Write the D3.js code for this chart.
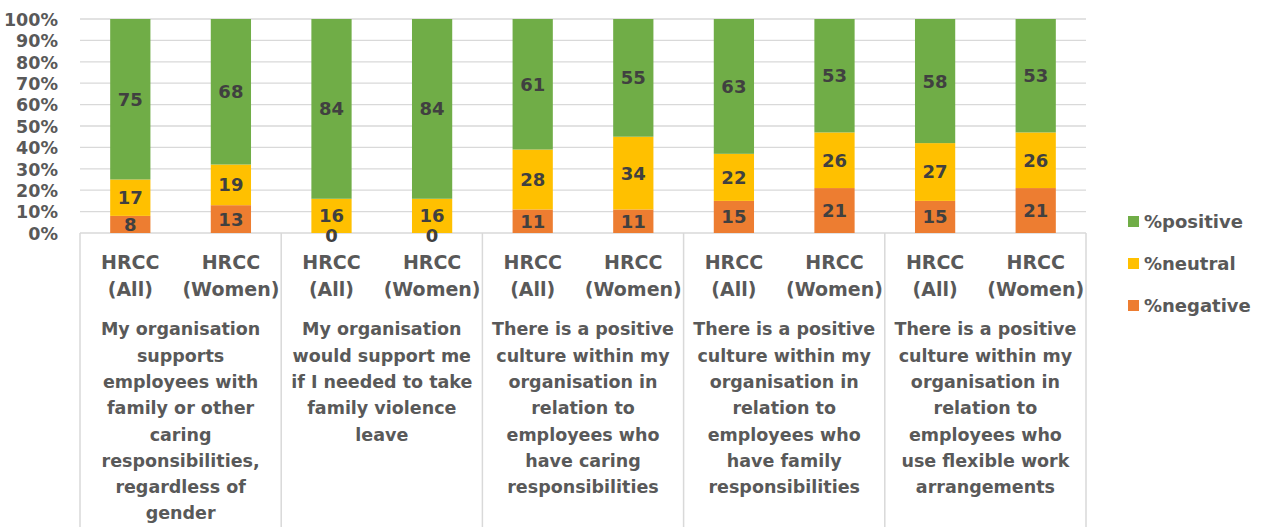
<!DOCTYPE html>
<html>
<head>
<meta charset="utf-8">
<script src="https://cdn.jsdelivr.net/npm/d3@7"></script>
<style>
  html, body { margin: 0; padding: 0; background: #fff; }
  svg { display: block; font-family: "DejaVu Sans", sans-serif; font-weight: bold; }
</style>
</head>
<body>
<svg id="chart" width="1263" height="527"></svg>
<script>
// Survey statements (one group per statement), split into display lines
const statements = [
  ["My organisation", "supports", "employees with", "family or other", "caring", "responsibilities,", "regardless of", "gender"],
  ["My organisation", "would support me", "if I needed to take", "family violence", "leave"],
  ["There is a positive", "culture within my", "organisation in", "relation to", "employees who", "have caring", "responsibilities"],
  ["There is a positive", "culture within my", "organisation in", "relation to", "employees who", "have family", "responsibilities"],
  ["There is a positive", "culture within my", "organisation in", "relation to", "employees who", "use flexible work", "arrangements"]
];
const groups = ["HRCC (All)", "HRCC (Women)"];
const groupLines = [["HRCC", "(All)"], ["HRCC", "(Women)"]];

// Percent responses, ordered statement by statement, All then Women
const negative = [8, 13, 0, 0, 11, 11, 15, 21, 15, 21];
const neutral  = [17, 19, 16, 16, 28, 34, 22, 26, 27, 26];
const positive = [75, 68, 84, 84, 61, 55, 63, 53, 58, 53];

const yTicks = [0, 10, 20, 30, 40, 50, 60, 70, 80, 90, 100];
const seriesNames = ["%positive", "%neutral", "%negative"];
const colors = { "%positive": "#70ad47", "%neutral": "#ffc000", "%negative": "#ed7d31" };

const svg = d3.select("#chart");
const plotLeft = 80, plotRight = 1086, plotTop = 19, plotBottom = 233, svgH = 527;

const rows = negative.map((d, i) => ({
  key: i,
  stmt: Math.floor(i / 2),
  grp: i % 2,
  "%negative": negative[i],
  "%neutral": neutral[i],
  "%positive": positive[i]
}));

const x = d3.scaleBand().domain(rows.map(r => r.key)).range([plotLeft, plotRight])
  .paddingInner(0.6).paddingOuter(0.3);
const xStmt = d3.scaleBand().domain(statements.map((s, i) => i)).range([plotLeft, plotRight]);
const y = d3.scaleLinear().domain([0, 100]).range([plotBottom, plotTop]);

// Gridlines
svg.append("g").selectAll("line").data(yTicks.filter(t => t > 0)).join("line")
  .attr("x1", plotLeft).attr("x2", plotRight)
  .attr("y1", d => y(d)).attr("y2", d => y(d))
  .attr("stroke", "#d9d9d9").attr("stroke-width", 1.3);

// Y axis labels
const yAxis = svg.append("g").attr("transform", `translate(${plotLeft - 22},0)`)
  .call(d3.axisLeft(y).tickValues(yTicks).tickFormat(d => d + "%").tickSize(0).tickPadding(0));
yAxis.select(".domain").remove();
yAxis.selectAll("text").attr("fill", "#595959").style("font-size", "17.5px")
  .style("font-family", "DejaVu Sans, sans-serif").style("font-weight", "bold").attr("dy", "0.36em");

// Category axis frame
const axisG = svg.append("g");
axisG.append("line").attr("x1", plotLeft).attr("x2", plotRight).attr("y1", plotBottom).attr("y2", plotBottom)
  .attr("stroke", "#d9d9d9").attr("stroke-width", 1.5);
const bounds = statements.map((s, i) => xStmt(i)).concat([plotRight]);
axisG.selectAll("line.sep").data(bounds).join("line").attr("class", "sep")
  .attr("x1", d => d).attr("x2", d => d).attr("y1", plotBottom).attr("y2", svgH)
  .attr("stroke", "#d9d9d9").attr("stroke-width", 1.5);

// Stacked bars
const stack = d3.stack().keys(["%negative", "%neutral", "%positive"]);
const layers = stack(rows);
const barG = svg.append("g");
layers.forEach(layer => {
  barG.append("g").selectAll("rect").data(layer).join("rect")
    .attr("x", d => x(d.data.key))
    .attr("width", x.bandwidth())
    .attr("y", d => y(d[1]))
    .attr("height", d => y(d[0]) - y(d[1]))
    .attr("fill", colors[layer.key]);
});

// Value labels (zero-height segments sit just below their neighbour's label)
layers.forEach(layer => {
  barG.append("g").selectAll("text").data(layer).join("text")
    .attr("x", d => x(d.data.key) + x.bandwidth() / 2)
    .attr("y", d => y((d[0] + d[1]) / 2) + (d[1] === d[0] ? 3 : 0))
    .attr("dy", "0.36em")
    .attr("text-anchor", "middle")
    .attr("fill", "#404040")
    .style("font-size", "18px")
    .text(d => d.data[layer.key]);
});

// Sub-category labels (HRCC All / Women)
const subG = svg.append("g");
rows.forEach(r => {
  const t = subG.append("text")
    .attr("text-anchor", "middle")
    .attr("fill", "#595959")
    .style("font-size", "19px");
  groupLines[r.grp].forEach((line, j) => {
    t.append("tspan").attr("x", x(r.key) + x.bandwidth() / 2)
      .attr("y", 262 + j * 27).attr("dy", "0.36em").text(line);
  });
});

// Statement labels
const stG = svg.append("g");
statements.forEach((lines, i) => {
  const cx = xStmt(i) + xStmt.bandwidth() / 2;
  const t = stG.append("text").attr("text-anchor", "middle").attr("fill", "#595959")
    .style("font-size", "17.5px");
  lines.forEach((line, j) => {
    t.append("tspan").attr("x", cx).attr("y", 329 + j * 26.3).attr("dy", "0.36em").text(line);
  });
});

// Legend
const legend = svg.append("g");
seriesNames.forEach((name, i) => {
  const ly = 222 + i * 42;
  legend.append("rect").attr("x", 1128).attr("y", ly - 6).attr("width", 11).attr("height", 11)
    .attr("fill", colors[name]);
  legend.append("text").attr("x", 1144).attr("y", ly).attr("dy", "0.36em")
    .attr("fill", "#595959").style("font-size", "18px").text(name);
});
</script>
</body>
</html>
